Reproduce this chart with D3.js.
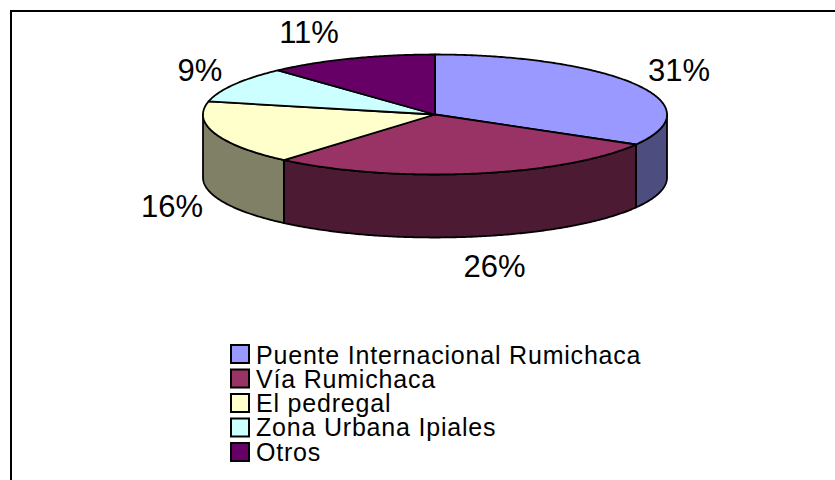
<!DOCTYPE html>
<html>
<head>
<meta charset="utf-8">
<script src="https://cdn.jsdelivr.net/npm/d3@7/dist/d3.min.js"></script>
<style>
html,body{margin:0;padding:0;background:#fff}
svg{display:block}
text{font-family:"Liberation Sans",Arial,sans-serif;fill:#000}
</style>
</head>
<body>
<svg id="chart" width="835" height="480"></svg>
<script>
const categories = ["Puente Internacional Rumichaca","Vía Rumichaca","El pedregal","Zona Urbana Ipiales","Otros"];
const values = [31,26,16,9,11];
const percentLabels = ["31%","26%","16%","9%","11%"];
const topColors = ["#9999FF","#993366","#FFFFCC","#CCFFFF","#660066"];
const sideColors = ["#4D4D80","#4D1A33","#808066","#668080","#330033"];

// layout
const cx = 435, cy = 114.5, rx = 232, ry = 60, depth = 63;
const labelCenters = [[679,81],[494.5,277],[172,217],[200,81],[309,43]];

const svg = d3.select("#chart");
const x = d3.scaleLinear().domain([-1,1]).range([cx-rx,cx+rx]);
const y = d3.scaleLinear().domain([-1,1]).range([cy-ry,cy+ry]);
const pie = d3.pie().sort(null).value(d=>d).startAngle(0).endAngle(2*Math.PI);
const arcs = pie(values);
const line = d3.line();

function rim(a0,a1,dy){
  const n = Math.max(2,Math.ceil(Math.abs(a1-a0)/0.01));
  return d3.range(n+1).map(i=>{
    const a = a0+(a1-a0)*i/n;
    return [x(Math.sin(a)), y(-Math.cos(a))+dy];
  });
}

// frame: top and left edges only
svg.append("path").attr("d",line([[11,480],[11,11],[835,11]]))
  .attr("fill","none").attr("stroke","#000").attr("stroke-width",2);

// front wall
const H = Math.PI/2, L = 3*Math.PI/2;
arcs.forEach((d,i)=>{
  const a0 = Math.max(d.startAngle,H), a1 = Math.min(d.endAngle,L);
  if(a1<=a0) return;
  const pts = rim(a0,a1,0).concat(rim(a1,a0,depth));
  svg.append("path").attr("d",line(pts)+"Z")
    .attr("fill",sideColors[i]).attr("stroke","#000").attr("stroke-width",1.8).attr("stroke-linejoin","round");
});

// top face
arcs.forEach((d,i)=>{
  const pts = [[x(0),y(0)]].concat(rim(d.startAngle,d.endAngle,0));
  svg.append("path").attr("d",line(pts)+"Z")
    .attr("fill",topColors[i]).attr("stroke","#000").attr("stroke-width",1.8).attr("stroke-linejoin","round");
});

// percent labels
svg.selectAll("text.pct").data(percentLabels).join("text")
  .attr("class","pct")
  .attr("x",(d,i)=>labelCenters[i][0])
  .attr("y",(d,i)=>labelCenters[i][1])
  .attr("text-anchor","middle")
  .attr("font-size",31)
  .text(d=>d);

// legend
const rowY = d3.scalePoint().domain(categories).range([354,452]);
const textY = d3.scalePoint().domain(categories).range([364,460.5]);
const legend = svg.selectAll("g.leg").data(categories).join("g").attr("class","leg");
legend.append("rect").attr("x",231).attr("y",d=>rowY(d)-9).attr("width",18).attr("height",18)
  .attr("fill",(d,i)=>topColors[i]).attr("stroke","#000").attr("stroke-width",2);
legend.append("text").attr("x",256).attr("y",d=>textY(d)).attr("font-size",25)
  .attr("letter-spacing",0.8)
  .text(d=>d);
</script>
</body>
</html>
